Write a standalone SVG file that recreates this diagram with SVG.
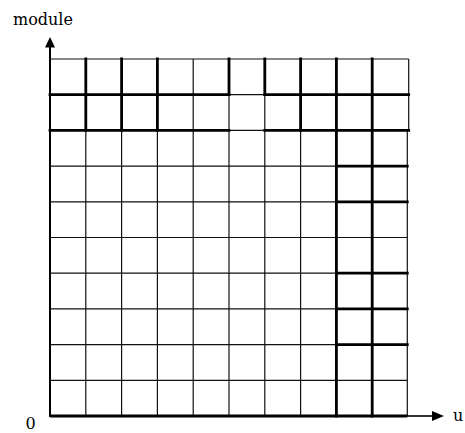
<svg xmlns="http://www.w3.org/2000/svg" width="465" height="433" viewBox="0 0 465 433">
  <style>
    .thin { stroke: #111; stroke-width: 1.2; fill: none; }
    .thick { stroke: #000; stroke-width: 2.8; fill: none; stroke-linecap: square; }
    .axis { stroke: #000; stroke-width: 2; fill: none; }
    .lbl { font-family: "DejaVu Serif", serif; font-size: 16px; fill: #000; }
  </style>
  <rect width="465" height="433" fill="#fff"/>
  <g id="grid-thin">
    <path class="thin" d="M50 59H408.7 M50 94.7H408.7 M50 130.4H407.3 M50 166.1H407.3 M50 201.8H407.3 M50 237.5H407.3 M50 273.2H407.3 M50 308.9H407.3 M50 344.6H407.3 M50 380.3H407.3"/>
    <path class="thin" d="M85.8 59V416 M121.6 59V416 M157.4 59V416 M193.2 59V416 M229 59V416 M264.8 59V416 M300.6 59V416 M336.4 59V416 M372.2 59V416 M408.7 59V130.4 M407.3 130.4V416"/>
  </g>
  <g id="grid-thick">
    <path class="thick" d="M85.8 59V130.4 M121.6 59V130.4 M157.4 59V130.4 M229 59V94.7 M264.8 59V94.7 M300.6 59V130.4 M336.4 59V416 M372.2 59V416"/>
    <path class="thick" d="M50 94.7H229 M264.8 94.7H408.7 M50 130.4H229 M264.8 130.4H408.7"/>
    <path class="thick" d="M336.4 166.1H407.3 M336.4 201.8H407.3 M336.4 273.2H407.3 M336.4 308.9H407.3 M336.4 344.6H407.3"/>
  </g>
  <g id="axes">
    <path class="axis" d="M50 46V417"/>
    <path d="M50 416H407.3" stroke="#000" stroke-width="3" fill="none"/>
    <path d="M407 416H433" stroke="#000" stroke-width="1.6" fill="none"/>
    <polygon points="50,37 45,47.5 55,47.5" fill="#000"/>
    <polygon points="444,416 432,411 432,421" fill="#000"/>
  </g>
  <g id="labels">
    <text class="lbl" x="30.5" y="429" text-anchor="middle">0</text>
    <text class="lbl" x="13" y="25">module</text>
    <text class="lbl" x="453" y="421">u</text>
  </g>
</svg>
